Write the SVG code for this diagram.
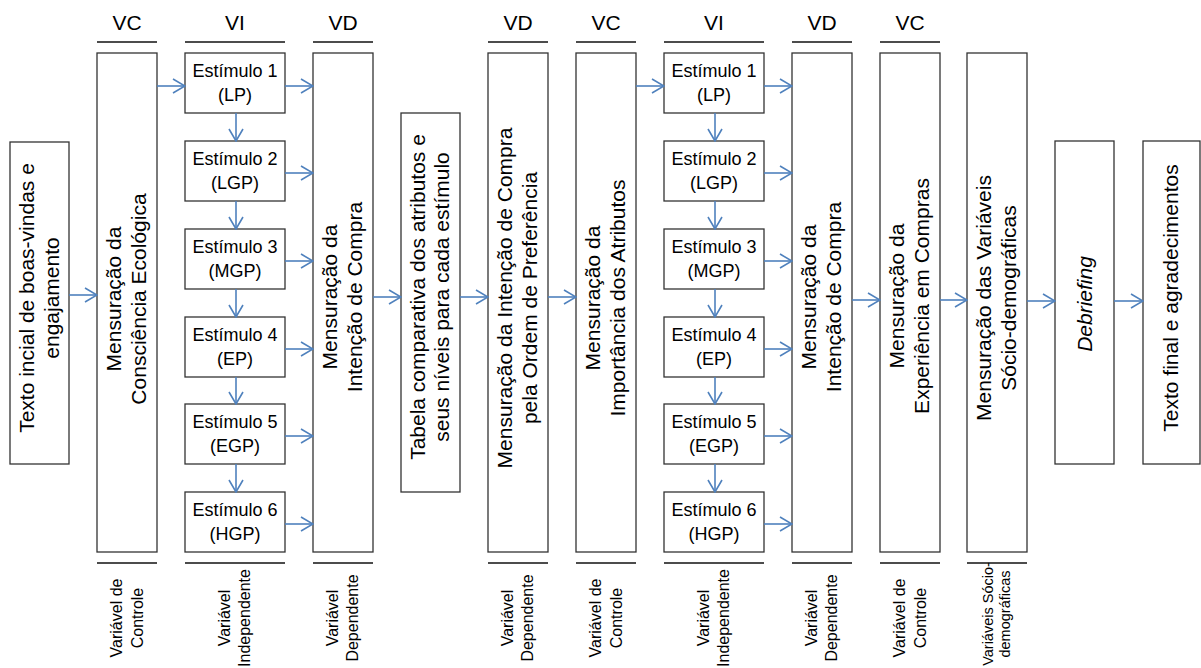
<svg xmlns="http://www.w3.org/2000/svg" width="1201" height="668" viewBox="0 0 1201 668">
<defs>
<style>
.box{fill:#fff;stroke:#333;stroke-width:1.3}
.rule{stroke:#111;stroke-width:1.3}
.conn{stroke:#4F81BD;stroke-width:1.6;fill:none;marker-end:url(#ah)}
text{font-family:"Liberation Sans",Arial,sans-serif;fill:#000}
.hd{font-size:21px;text-anchor:middle}
.big{font-size:21px;text-anchor:middle}
.st{font-size:18px;text-anchor:middle}
.lb{font-size:16px;text-anchor:middle}
.lbs{font-size:14.5px;text-anchor:middle}
</style>
<marker id="ah" viewBox="0 0 14 16" refX="13" refY="8" markerWidth="14" markerHeight="16" markerUnits="userSpaceOnUse" orient="auto">
<path d="M1,1 L13,8 L1,15" fill="none" stroke="#4F81BD" stroke-width="1.6"/>
</marker>
</defs>
<rect width="1201" height="668" fill="#fff"/>

<g id="headers">
<text class="hd" x="127" y="30">VC</text>
<text class="hd" x="235" y="30">VI</text>
<text class="hd" x="343" y="30">VD</text>
<text class="hd" x="518" y="30">VD</text>
<text class="hd" x="606" y="30">VC</text>
<text class="hd" x="714" y="30">VI</text>
<text class="hd" x="822" y="30">VD</text>
<text class="hd" x="910" y="30">VC</text>
<line class="rule" x1="97" y1="42" x2="157" y2="42"/>
<line class="rule" x1="185" y1="42" x2="285" y2="42"/>
<line class="rule" x1="313" y1="42" x2="373" y2="42"/>
<line class="rule" x1="488" y1="42" x2="548" y2="42"/>
<line class="rule" x1="576" y1="42" x2="636" y2="42"/>
<line class="rule" x1="664" y1="42" x2="764" y2="42"/>
<line class="rule" x1="792" y1="42" x2="852" y2="42"/>
<line class="rule" x1="880" y1="42" x2="940" y2="42"/>
</g>

<g id="footers">
<line class="rule" x1="97" y1="563" x2="157" y2="563"/>
<line class="rule" x1="185" y1="563" x2="285" y2="563"/>
<line class="rule" x1="313" y1="563" x2="373" y2="563"/>
<line class="rule" x1="488" y1="563" x2="548" y2="563"/>
<line class="rule" x1="576" y1="563" x2="636" y2="563"/>
<line class="rule" x1="664" y1="563" x2="764" y2="563"/>
<line class="rule" x1="792" y1="563" x2="852" y2="563"/>
<line class="rule" x1="880" y1="563" x2="940" y2="563"/>
<line class="rule" x1="967" y1="563" x2="1027" y2="563"/>
<text class="lb" transform="translate(127,618) rotate(-90)"><tspan x="0" y="-5.5">Variável de</tspan><tspan x="0" y="15.5">Controle</tspan></text>
<text class="lb" transform="translate(235,618) rotate(-90)"><tspan x="0" y="-5.5">Variável</tspan><tspan x="0" y="14.5">Independente</tspan></text>
<text class="lb" transform="translate(343,618) rotate(-90)"><tspan x="0" y="-5.5">Variável</tspan><tspan x="0" y="14.5">Dependente</tspan></text>
<text class="lb" transform="translate(518,618) rotate(-90)"><tspan x="0" y="-5.5">Variável</tspan><tspan x="0" y="14.5">Dependente</tspan></text>
<text class="lb" transform="translate(606,618) rotate(-90)"><tspan x="0" y="-5.5">Variável de</tspan><tspan x="0" y="15.5">Controle</tspan></text>
<text class="lb" transform="translate(714,618) rotate(-90)"><tspan x="0" y="-5.5">Variável</tspan><tspan x="0" y="14.5">Independente</tspan></text>
<text class="lb" transform="translate(822,618) rotate(-90)"><tspan x="0" y="-5.5">Variável</tspan><tspan x="0" y="14.5">Dependente</tspan></text>
<text class="lb" transform="translate(910,618) rotate(-90)"><tspan x="0" y="-5.5">Variável de</tspan><tspan x="0" y="15.5">Controle</tspan></text>
<text class="lbs" transform="translate(997,614) rotate(-90)"><tspan x="0" y="-4">Variáveis Sócio-</tspan><tspan x="0" y="13">demográficas</tspan></text>
</g>

<g id="n-texto-inicial">
<rect class="box" x="10" y="142" width="59" height="322"/>
<text class="big" transform="translate(39.5,298) rotate(-90)"><tspan x="0" y="-6">Texto incial de boas-vindas e</tspan><tspan x="0" y="19">engajamento</tspan></text>
</g>

<g id="n-consciencia">
<rect class="box" x="97" y="53" width="60" height="499"/>
<text class="big" transform="translate(127,299) rotate(-90)"><tspan x="0" y="-6.5">Mensuração da</tspan><tspan x="0" y="19">Consciência Ecológica</tspan></text>
</g>

<g id="n-est1a"><rect class="box" x="185" y="53" width="100" height="60"/><text class="st" x="235" y="77">Estímulo 1</text><text class="st" x="235" y="101">(LP)</text></g>
<g id="n-est2a"><rect class="box" x="185" y="141" width="100" height="60"/><text class="st" x="235" y="165">Estímulo 2</text><text class="st" x="235" y="189">(LGP)</text></g>
<g id="n-est3a"><rect class="box" x="185" y="229" width="100" height="60"/><text class="st" x="235" y="253">Estímulo 3</text><text class="st" x="235" y="277">(MGP)</text></g>
<g id="n-est4a"><rect class="box" x="185" y="317" width="100" height="60"/><text class="st" x="235" y="341">Estímulo 4</text><text class="st" x="235" y="365">(EP)</text></g>
<g id="n-est5a"><rect class="box" x="185" y="404" width="100" height="60"/><text class="st" x="235" y="428">Estímulo 5</text><text class="st" x="235" y="452">(EGP)</text></g>
<g id="n-est6a"><rect class="box" x="185" y="492" width="100" height="60"/><text class="st" x="235" y="516">Estímulo 6</text><text class="st" x="235" y="540">(HGP)</text></g>

<g id="n-intencao1">
<rect class="box" x="313" y="53" width="60" height="499"/>
<text class="big" transform="translate(343,297) rotate(-90)"><tspan x="0" y="-6.5">Mensuração da</tspan><tspan x="0" y="18.5">Intenção de Compra</tspan></text>
</g>

<g id="n-tabela">
<rect class="box" x="401" y="113" width="59" height="379"/>
<text class="big" transform="translate(430.5,297) rotate(-90)"><tspan x="0" y="-6">Tabela comparativa dos atributos e</tspan><tspan x="0" y="18.5">seus níveis para cada estímulo</tspan></text>
</g>

<g id="n-intencao-ordem">
<rect class="box" x="488" y="53" width="60" height="499"/>
<text class="big" transform="translate(518,298) rotate(-90)"><tspan x="0" y="-6">Mensuração da Intenção de Compra</tspan><tspan x="0" y="18.5">pela Ordem de Preferência</tspan></text>
</g>

<g id="n-importancia">
<rect class="box" x="576" y="53" width="60" height="499"/>
<text class="big" transform="translate(606,298) rotate(-90)"><tspan x="0" y="-6">Mensuração da</tspan><tspan x="0" y="18.5">Importância dos Atributos</tspan></text>
</g>

<g id="n-est1b"><rect class="box" x="664" y="53" width="100" height="60"/><text class="st" x="714" y="77">Estímulo 1</text><text class="st" x="714" y="101">(LP)</text></g>
<g id="n-est2b"><rect class="box" x="664" y="141" width="100" height="60"/><text class="st" x="714" y="165">Estímulo 2</text><text class="st" x="714" y="189">(LGP)</text></g>
<g id="n-est3b"><rect class="box" x="664" y="229" width="100" height="60"/><text class="st" x="714" y="253">Estímulo 3</text><text class="st" x="714" y="277">(MGP)</text></g>
<g id="n-est4b"><rect class="box" x="664" y="317" width="100" height="60"/><text class="st" x="714" y="341">Estímulo 4</text><text class="st" x="714" y="365">(EP)</text></g>
<g id="n-est5b"><rect class="box" x="664" y="404" width="100" height="60"/><text class="st" x="714" y="428">Estímulo 5</text><text class="st" x="714" y="452">(EGP)</text></g>
<g id="n-est6b"><rect class="box" x="664" y="492" width="100" height="60"/><text class="st" x="714" y="516">Estímulo 6</text><text class="st" x="714" y="540">(HGP)</text></g>

<g id="n-intencao2">
<rect class="box" x="792" y="53" width="60" height="499"/>
<text class="big" transform="translate(822,297) rotate(-90)"><tspan x="0" y="-6">Mensuração da</tspan><tspan x="0" y="18.5">Intenção de Compra</tspan></text>
</g>

<g id="n-experiencia">
<rect class="box" x="880" y="53" width="60" height="499"/>
<text class="big" transform="translate(910,296) rotate(-90)"><tspan x="0" y="-6">Mensuração da</tspan><tspan x="0" y="18.5">Experiência em Compras</tspan></text>
</g>

<g id="n-sociodemo">
<rect class="box" x="967" y="53" width="60" height="499"/>
<text class="big" transform="translate(997,298) rotate(-90)"><tspan x="0" y="-6">Mensuração das Variáveis</tspan><tspan x="0" y="18.5">Sócio-demográficas</tspan></text>
</g>

<g id="n-debriefing">
<rect class="box" x="1055" y="141" width="59" height="323"/>
<text class="big" font-style="italic" transform="translate(1084.5,304) rotate(-90)" y="7.5">Debriefing</text>
</g>

<g id="n-texto-final">
<rect class="box" x="1143" y="141" width="57" height="323"/>
<text class="big" transform="translate(1171.5,298) rotate(-90)" y="6.5">Texto final e agradecimentos</text>
</g>

<g id="connectors">
<line class="conn" x1="69" y1="295" x2="97" y2="295"/>
<line class="conn" x1="157" y1="86" x2="185" y2="86"/>
<line class="conn" x1="236" y1="113" x2="236" y2="141"/>
<line class="conn" x1="236" y1="201" x2="236" y2="229"/>
<line class="conn" x1="236" y1="289" x2="236" y2="317"/>
<line class="conn" x1="236" y1="377" x2="236" y2="404"/>
<line class="conn" x1="236" y1="464" x2="236" y2="492"/>
<line class="conn" x1="285" y1="86" x2="313" y2="86"/>
<line class="conn" x1="285" y1="173" x2="313" y2="173"/>
<line class="conn" x1="285" y1="261" x2="313" y2="261"/>
<line class="conn" x1="285" y1="349" x2="313" y2="349"/>
<line class="conn" x1="285" y1="436" x2="313" y2="436"/>
<line class="conn" x1="285" y1="524" x2="313" y2="524"/>
<line class="conn" x1="373" y1="297" x2="401" y2="297"/>
<line class="conn" x1="460" y1="297" x2="488" y2="297"/>
<line class="conn" x1="548" y1="297" x2="576" y2="297"/>
<line class="conn" x1="636" y1="86" x2="664" y2="86"/>
<line class="conn" x1="715" y1="113" x2="715" y2="141"/>
<line class="conn" x1="715" y1="201" x2="715" y2="229"/>
<line class="conn" x1="715" y1="289" x2="715" y2="317"/>
<line class="conn" x1="715" y1="377" x2="715" y2="404"/>
<line class="conn" x1="715" y1="464" x2="715" y2="492"/>
<line class="conn" x1="764" y1="86" x2="792" y2="86"/>
<line class="conn" x1="764" y1="173" x2="792" y2="173"/>
<line class="conn" x1="764" y1="261" x2="792" y2="261"/>
<line class="conn" x1="764" y1="349" x2="792" y2="349"/>
<line class="conn" x1="764" y1="436" x2="792" y2="436"/>
<line class="conn" x1="764" y1="524" x2="792" y2="524"/>
<line class="conn" x1="852" y1="300" x2="880" y2="300"/>
<line class="conn" x1="940" y1="300" x2="967" y2="300"/>
<line class="conn" x1="1027" y1="301" x2="1055" y2="301"/>
<line class="conn" x1="1114" y1="301" x2="1143" y2="301"/>
</g>
</svg>
